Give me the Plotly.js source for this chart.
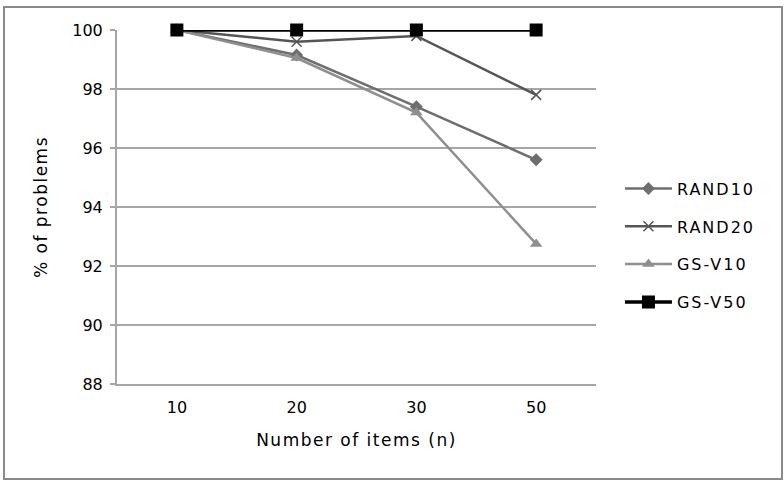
<!DOCTYPE html>
<html>
<head>
<meta charset="utf-8">
<script src="https://cdn.plot.ly/plotly-3.0.1.min.js"></script>
<style>
html,body{margin:0;padding:0;background:#fff;}
#wrap{position:relative;width:784px;height:486px;}
#chart{width:784px;height:486px;}
#frame{position:absolute;left:3px;top:6px;width:776px;height:470px;border:2px solid #8a8a8a;pointer-events:none;}
.xtitle,.ytitle{letter-spacing:1.5px;}
.legendtext{letter-spacing:2px;}
</style>
</head>
<body>
<div id="wrap"><div id="chart"></div><div id="frame"></div></div>
<script>
const categories = ["10", "20", "30", "50"];
const rand10 = [100, 99.15, 97.4, 95.6];
const rand20 = [100, 99.6, 99.8, 97.8];
const gsv10 = [100, 99.05, 97.2, 92.75];
const gsv50 = [100, 100, 100, 100];
const seriesNames = ["RAND10", "RAND20", "GS-V10", "GS-V50"];
const yTicks = [88, 90, 92, 94, 96, 98, 100];

const styles = [
  {color: "#6e6e6e", symbol: "diamond", size: 10, width: 2.5},
  {color: "#555555", symbol: "x-thin-open", size: 10, width: 2.5},
  {color: "#8f8f8f", symbol: "triangle-up", size: 11, width: 2.5},
  {color: "#000000", symbol: "square", size: 13, width: 3.5}
];
const data = [rand10, rand20, gsv10, gsv50].map((ys, i) => ({
  type: "scatter",
  mode: "lines+markers",
  x: categories,
  y: ys,
  name: seriesNames[i],
  legendgroup: "g" + i,
  cliponaxis: false,
  line: {color: styles[i].color, width: styles[i].width},
  marker: {color: styles[i].color, symbol: styles[i].symbol, size: styles[i].size,
           line: {color: styles[i].color, width: styles[i].symbol === "x-thin-open" ? 1.5 : 0}}
}));

const font = {family: "DejaVu Sans, Arial, sans-serif", color: "#000"};
const layout = {
  width: 784, height: 486,
  margin: {l: 117, r: 188, t: 30, b: 102},
  paper_bgcolor: "#fff", plot_bgcolor: "#fff",
  showlegend: true,
  legend: {
    x: 1.05, xanchor: "left", y: 0.6, yanchor: "top",
    traceorder: "grouped", tracegroupgap: 14,
    itemwidth: 47,
    font: Object.assign({size: 16}, font),
    bgcolor: "rgba(0,0,0,0)"
  },
  xaxis: {
    type: "category",
    range: [-0.5, 3.5],
    tickvals: categories, ticktext: categories,
    showgrid: false,
    showline: true, linecolor: "#a6a6a6", linewidth: 2,
    ticks: "outside", ticklen: 8, tickcolor: "rgba(0,0,0,0)",
    tickfont: Object.assign({size: 16}, font),
    title: {text: "Number of items (n)", font: Object.assign({size: 17}, font), standoff: 18},
    fixedrange: true
  },
  yaxis: {
    range: [88, 100], tickvals: yTicks, ticktext: yTicks.map(String),
    showgrid: true, gridcolor: "#a6a6a6", gridwidth: 2,
    zeroline: false,
    showline: true, linecolor: "#a6a6a6", linewidth: 2,
    ticks: "outside", ticklen: 5, tickcolor: "#a6a6a6", tickwidth: 2,
    ticklabelstandoff: 4,
    tickfont: Object.assign({size: 16}, font),
    title: {text: "% of problems", font: Object.assign({size: 17}, font), standoff: 20},
    fixedrange: true
  }
};
Plotly.newPlot("chart", data, layout, {displayModeBar: false, staticPlot: true});
</script>
</body>
</html>
